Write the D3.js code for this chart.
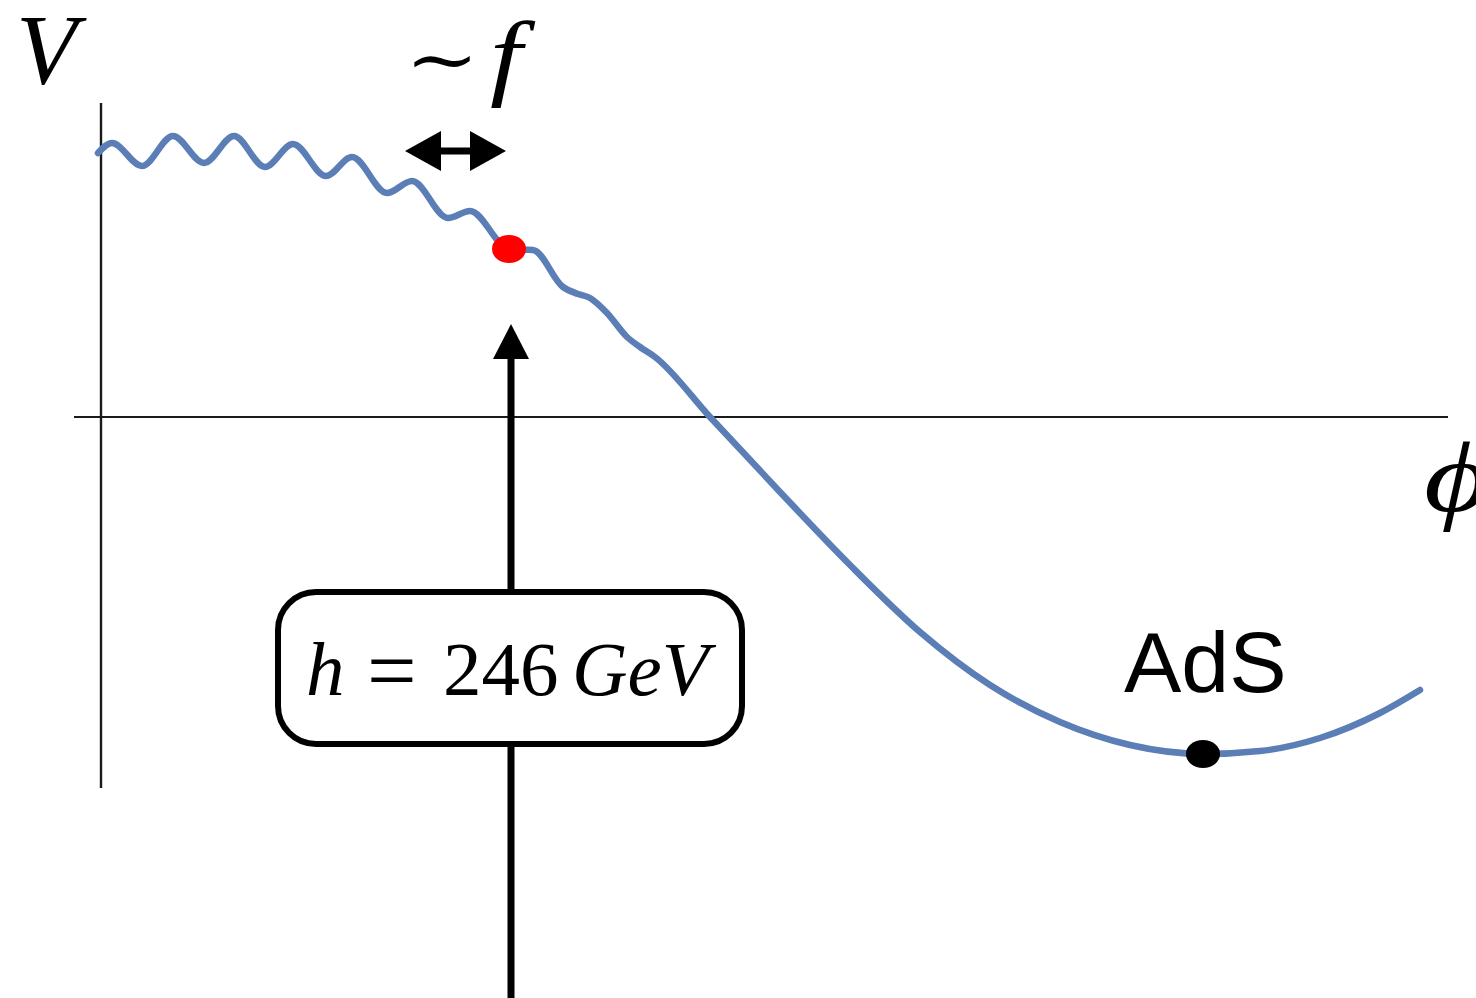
<!DOCTYPE html>
<html>
<head>
<meta charset="utf-8">
<script src="https://cdn.jsdelivr.net/npm/d3@7"></script>
<style>
  html, body { margin: 0; padding: 0; background: #fff; }
  svg { display: block; }
</style>
</head>
<body>
<svg id="chart" width="1476" height="998"></svg>
<script>
// Field value (phi) and potential (V) along the curve
const phi = [-0.03, 0.11, 0.41, 0.72, 1.03, 1.33, 1.64, 1.92, 2.25, 2.51, 2.86, 3.11, 3.47, 3.69,
             4.08, 4.32, 4.62, 4.77, 4.89, 5.06, 5.26, 5.39, 5.54, 6.09, 6.79, 7.49, 8.19, 8.89,
             9.59, 10.29, 11.02, 11.59, 12.19, 12.79, 13.19];
const V   = [2.64, 2.74, 2.51, 2.81, 2.54, 2.81, 2.50, 2.73, 2.41, 2.60, 2.24, 2.36, 1.99, 2.06,
             1.68, 1.67, 1.30, 1.23, 1.19, 1.04, 0.80, 0.70, 0.60, 0.00, -0.75, -1.48, -2.15, -2.68,
             -3.05, -3.28, -3.37, -3.34, -3.21, -2.96, -2.73];

// Marked points: electroweak vacuum (red) and AdS minimum (black)
const markPhi = [4.08, 11.02];
const markV   = [1.68, -3.37];
const markColor = ["#ff0000", "#000000"];

// Labels
const higgsLabel = ["h", "=", "246", "GeV"];
const minLabel = "AdS";

const phiDomain = [-0.27, 13.47];
const vDomain = [-3.71, 3.14];

const svg = d3.select("#chart");
const x = d3.scaleLinear().domain([0, 13.47]).range([101, 1448]);
const y = d3.scaleLinear().domain(vDomain).range([788, 103]);

const serif = "'Liberation Serif', 'Times New Roman', serif";

// Axes
svg.append("line")
  .attr("x1", x(phiDomain[0])).attr("x2", x(phiDomain[1]))
  .attr("y1", y(0)).attr("y2", y(0))
  .attr("stroke", "#1a1a1a").attr("stroke-width", 2.2);
svg.append("line")
  .attr("x1", x(0)).attr("x2", x(0))
  .attr("y1", y(vDomain[1])).attr("y2", y(vDomain[0]))
  .attr("stroke", "#1a1a1a").attr("stroke-width", 2.4);

// Vertical arrow pointing at the vacuum
const hx = x(markPhi[0]) + 2;
const tipY = 324, baseY = 359;
svg.append("line")
  .attr("x1", hx).attr("x2", hx)
  .attr("y1", baseY - 2).attr("y2", 998)
  .attr("stroke", "#000").attr("stroke-width", 7);
svg.append("path")
  .attr("d", `M${hx},${tipY} L${hx + 18},${baseY} L${hx - 18},${baseY} Z`)
  .attr("fill", "#000");

// Label box
svg.append("rect")
  .attr("x", 278).attr("y", 592).attr("width", 464).attr("height", 152)
  .attr("rx", 38).attr("ry", 38)
  .attr("fill", "#fff").attr("stroke", "#000").attr("stroke-width", 6);

const ht = svg.append("text")
  .attr("y", 695)
  .attr("font-family", serif)
  .attr("font-size", 77).attr("fill", "#000");
ht.append("tspan").attr("x", 306).attr("font-style", "italic").text(higgsLabel[0]);
ht.append("tspan").attr("x", 367).attr("y", 700).attr("font-size", 88).text(higgsLabel[1]);
ht.append("tspan").attr("x", 443).attr("y", 695).text(higgsLabel[2]);
ht.append("tspan").attr("x", 572).attr("font-style", "italic").text(higgsLabel[3]);

// Potential curve
const line = d3.line()
  .x((d, i) => x(phi[i]))
  .y((d, i) => y(V[i]))
  .curve(d3.curveMonotoneX);
svg.append("path")
  .datum(phi)
  .attr("d", line)
  .attr("fill", "none")
  .attr("stroke", "#5b7eb7")
  .attr("stroke-width", 6.5)
  .attr("stroke-linecap", "round")
  .attr("stroke-linejoin", "round");

// Marked points
svg.selectAll("ellipse.mark")
  .data(markPhi)
  .join("ellipse")
  .attr("class", "mark")
  .attr("cx", (d) => x(d))
  .attr("cy", (d, i) => y(markV[i]))
  .attr("rx", 17).attr("ry", 14)
  .attr("fill", (d, i) => markColor[i]);

// Double arrow indicating the oscillation scale
const ay = 151, ax0 = 405, ax1 = 506, head = 36, hh = 20, sw = 3.5;
svg.append("path")
  .attr("d", `M${ax0},${ay} L${ax0 + head},${ay - hh} L${ax0 + head},${ay - sw}
              L${ax1 - head},${ay - sw} L${ax1 - head},${ay - hh} L${ax1},${ay}
              L${ax1 - head},${ay + hh} L${ax1 - head},${ay + sw} L${ax0 + head},${ay + sw}
              L${ax0 + head},${ay + hh} Z`)
  .attr("fill", "#000");

// Axis and scale labels
svg.append("text")
  .attr("x", 16).attr("y", 83)
  .attr("font-family", serif)
  .attr("font-style", "italic").attr("font-size", 100)
  .text("V");

svg.append("text")
  .attr("transform", "translate(405,84) scale(1.3,1.05)")
  .attr("font-family", "'DejaVu Serif', serif")
  .attr("font-size", 68)
  .text("∼");
svg.append("text")
  .attr("transform", "translate(490,88) scale(1.2,1)")
  .attr("font-family", serif)
  .attr("font-style", "italic").attr("font-size", 96)
  .text("f");

svg.append("text")
  .attr("transform", "translate(1424,511) scale(1.25,1)")
  .attr("font-family", serif)
  .attr("font-style", "italic").attr("font-size", 100)
  .text("ϕ");

svg.append("text")
  .attr("x", 1124).attr("y", 692)
  .attr("font-family", "'Liberation Sans', Arial, sans-serif")
  .attr("font-size", 86)
  .text(minLabel);
</script>
</body>
</html>
